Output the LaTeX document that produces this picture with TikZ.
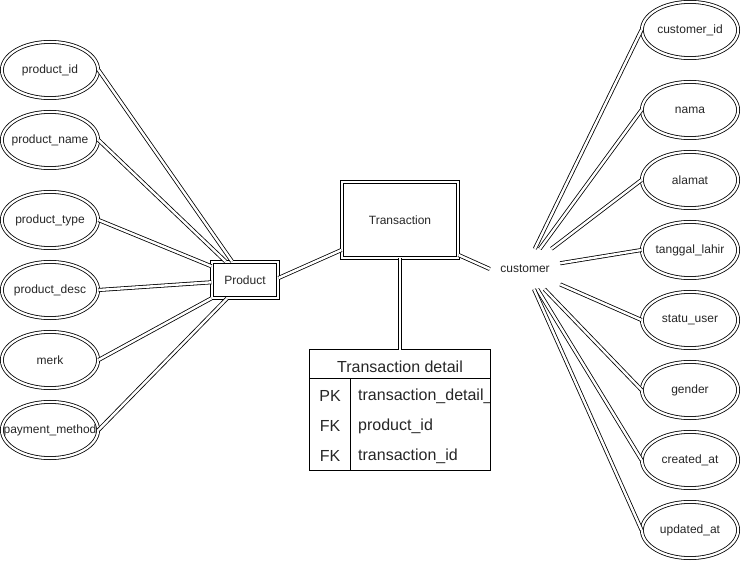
\documentclass[tikz,border=0pt]{standalone}
\usepackage{fontspec}
\setmainfont{Liberation Sans}
\usetikzlibrary{shapes.geometric,calc}
% label of fixed-size shapes: no width of its own
\newcommand\fixw[1]{\makebox[0pt][c]{#1}}
\begin{document}
\begin{tikzpicture}[x=1pt,y=-1pt,
  every node/.style={font=\fontsize{12}{14}\selectfont, text=black!85},
  attr/.style={ellipse, draw, line width=0.8pt, double=white, double distance=2.2pt,
    minimum width=96.2pt, minimum height=56.2pt, inner sep=0pt},
  entity/.style={rectangle, draw, line width=0.8pt, double=white, double distance=2.2pt,
    inner sep=0pt},
  link/.style={draw, line width=0.8pt, double=white, double distance=2.4pt},
  tbl/.style={line width=0.8pt},
  tbltext/.style={font=\fontsize{16}{19}\selectfont, inner sep=0pt}]
\useasboundingbox (0,0) rectangle (742,561);

% product attributes
\node[attr] (pid)   at (50,70)  {\fixw{product\_id}};
\node[attr] (pname) at (50,140) {\fixw{product\_name}};
\node[attr] (ptype) at (50,220) {\fixw{product\_type}};
\node[attr] (pdesc) at (50,290) {\fixw{product\_desc}};
\node[attr] (merk)  at (50,360) {\fixw{merk}};
\node[attr] (paym)  at (50,430) {\fixw{payment\_method}};

% customer attributes
\node[attr] (cid)     at (690,30)  {\fixw{customer\_id}};
\node[attr] (nama)    at (690,110) {\fixw{nama}};
\node[attr] (alamat)  at (690,180) {\fixw{alamat}};
\node[attr] (tgl)     at (690,250) {\fixw{tanggal\_lahir}};
\node[attr] (status)  at (690,320) {\fixw{statu\_user}};
\node[attr] (gender)  at (690,390) {\fixw{gender}};
\node[attr] (created) at (690,460) {\fixw{created\_at}};
\node[attr] (updated) at (690,530) {\fixw{updated\_at}};

% entities
\node[entity, minimum width=66.2pt, minimum height=36.2pt] (pr) at (245,280) {\fixw{Product}};
\node[entity, minimum width=116.2pt, minimum height=76.2pt] (tr) at (400,220) {\fixw{Transaction}};
\node[minimum width=70pt, minimum height=40pt, inner sep=0pt] (cu) at (525,269) {\fixw{customer}};

% transaction detail table
\node[minimum width=180pt, minimum height=120pt, inner sep=0pt] (td) at (400,410) {};
\begin{scope}
  \clip (310,350) rectangle (490,470);
  \node[tbltext] (tdh) at (400,367) {Transaction detail};
  \node[tbltext] (k1) at (330,396) {PK};
  \node[tbltext] (k2) at (330,426) {FK};
  \node[tbltext] (k3) at (330,456) {FK};
  \node[tbltext, anchor=west] (f1) at (358,396) {transaction\_detail\_id};
  \node[tbltext, anchor=west] (f2) at (358,426) {product\_id};
  \node[tbltext, anchor=west] (f3) at (358,456) {transaction\_id};
\end{scope}
\draw[tbl] (td.north west) rectangle (td.south east);
\draw[tbl] (310,378) -- (490,378);
\draw[tbl] (350,378) -- (350,470);

% product links
\foreach \a in {pid,pname,ptype,pdesc,merk,paym}
  \path[link] (\a.east) -- (pr);

% customer links
\foreach \a in {cid,nama,alamat,tgl,status,gender,created,updated}
  \path[link] (cu) -- (\a.west);

% relationships
\path[link] ([yshift=2pt]pr.east) -- ([yshift=-30pt]tr.west);
\path[link] ([yshift=-35pt]tr.east) -- (cu.west);
\path[link] (tr.south) -- (td.north);
\end{tikzpicture}
\end{document}
